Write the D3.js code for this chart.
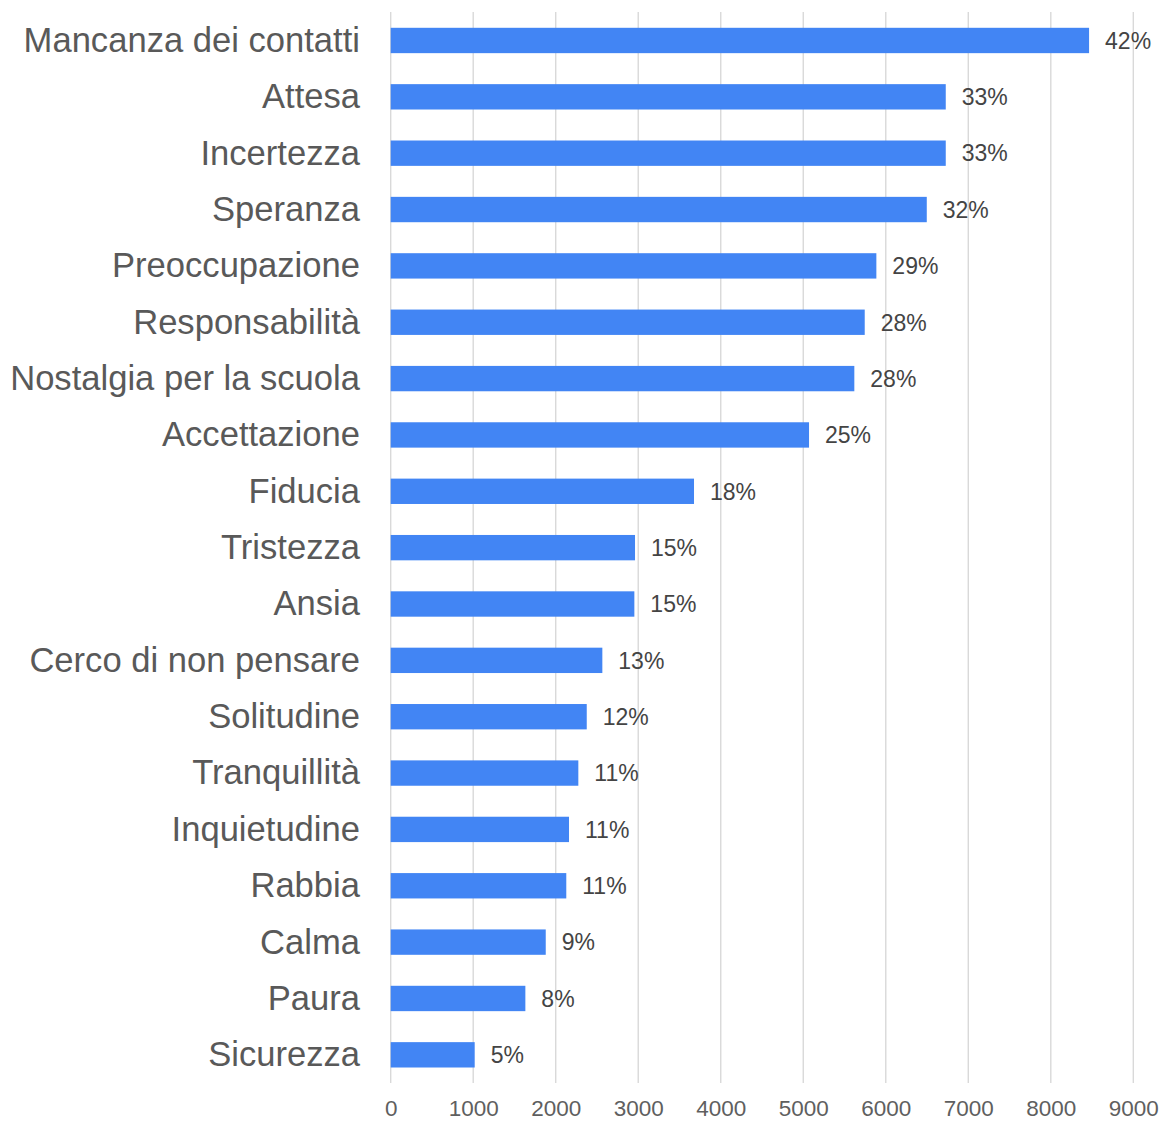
<!DOCTYPE html>
<html>
<head>
<meta charset="utf-8">
<script src="https://cdn.jsdelivr.net/npm/d3@7"></script>
<style>
  html, body { margin: 0; padding: 0; background: #fff; }
  svg { display: block; font-family: "Liberation Sans", Arial, sans-serif; }
</style>
</head>
<body>
<svg id="chart"></svg>
<script>
// categories, top to bottom
const categories = [
  "Mancanza dei contatti", "Attesa", "Incertezza", "Speranza", "Preoccupazione",
  "Responsabilità", "Nostalgia per la scuola", "Accettazione", "Fiducia", "Tristezza",
  "Ansia", "Cerco di non pensare", "Solitudine", "Tranquillità", "Inquietudine",
  "Rabbia", "Calma", "Paura", "Sicurezza"
];
// counts
const values = [
  8464, 6727, 6727, 6497, 5886,
  5745, 5619, 5070, 3676, 2961,
  2953, 2565, 2376, 2274, 2161,
  2128, 1879, 1632, 1018
];
// labels shown at the bar ends
const percentLabels = [
  "42%", "33%", "33%", "32%", "29%",
  "28%", "28%", "25%", "18%", "15%",
  "15%", "13%", "12%", "11%", "11%",
  "11%", "9%", "8%", "5%"
];
const xTicks = [0, 1000, 2000, 3000, 4000, 5000, 6000, 7000, 8000, 9000];

const width = 1161, height = 1121;
const barColor = "#4285f4";

const svg = d3.select("#chart")
  .attr("width", width)
  .attr("height", height);

const x = d3.scaleLinear().domain([0, 9000]).range([390.7, 1133.3]);
const y = d3.scaleBand()
  .domain(categories)
  .range([12.3, 1083])
  .paddingInner(0.55)
  .paddingOuter(0.275);

// gridlines
svg.append("g")
  .selectAll("line")
  .data(xTicks)
  .enter()
  .append("line")
    .attr("x1", d => x(d))
    .attr("x2", d => x(d))
    .attr("y1", 12)
    .attr("y2", 1083)
    .style("stroke", "#d9d9d9")
    .style("stroke-width", 1.4);

// x axis tick labels
const xAxis = d3.axisBottom(x).tickValues(xTicks).tickFormat(d3.format("d")).tickSize(0).tickPadding(0);
const gx = svg.append("g")
  .attr("transform", "translate(0,1100)")
  .call(xAxis);
gx.select(".domain").remove();
gx.selectAll("text")
  .attr("dy", "0")
  .attr("y", 16)
  .style("font-size", "22.5px")
  .style("font-family", "Liberation Sans, Arial, sans-serif")
  .style("fill", "#5f5f5f");

// bars
const data = categories.map((c, i) => ({ name: c, value: values[i], label: percentLabels[i] }));

svg.append("g")
  .selectAll("rect")
  .data(data)
  .enter()
  .append("rect")
    .attr("x", x(0))
    .attr("y", d => y(d.name))
    .attr("width", d => x(d.value) - x(0))
    .attr("height", y.bandwidth())
    .style("fill", barColor);

// category labels
svg.append("g")
  .selectAll("text")
  .data(data)
  .enter()
  .append("text")
    .attr("x", 360)
    .attr("y", d => y(d.name) + y.bandwidth() / 2)
    .attr("dy", "0.33em")
    .attr("text-anchor", "end")
    .style("font-size", "34.6px")
    .style("fill", "#595959")
    .text(d => d.name);

// value labels
svg.append("g")
  .selectAll("text")
  .data(data)
  .enter()
  .append("text")
    .attr("x", d => x(d.value) + 16)
    .attr("y", d => y(d.name) + y.bandwidth() / 2)
    .attr("dy", "0.36em")
    .style("font-size", "23px")
    .style("fill", "#444444")
    .text(d => d.label);
</script>
</body>
</html>
